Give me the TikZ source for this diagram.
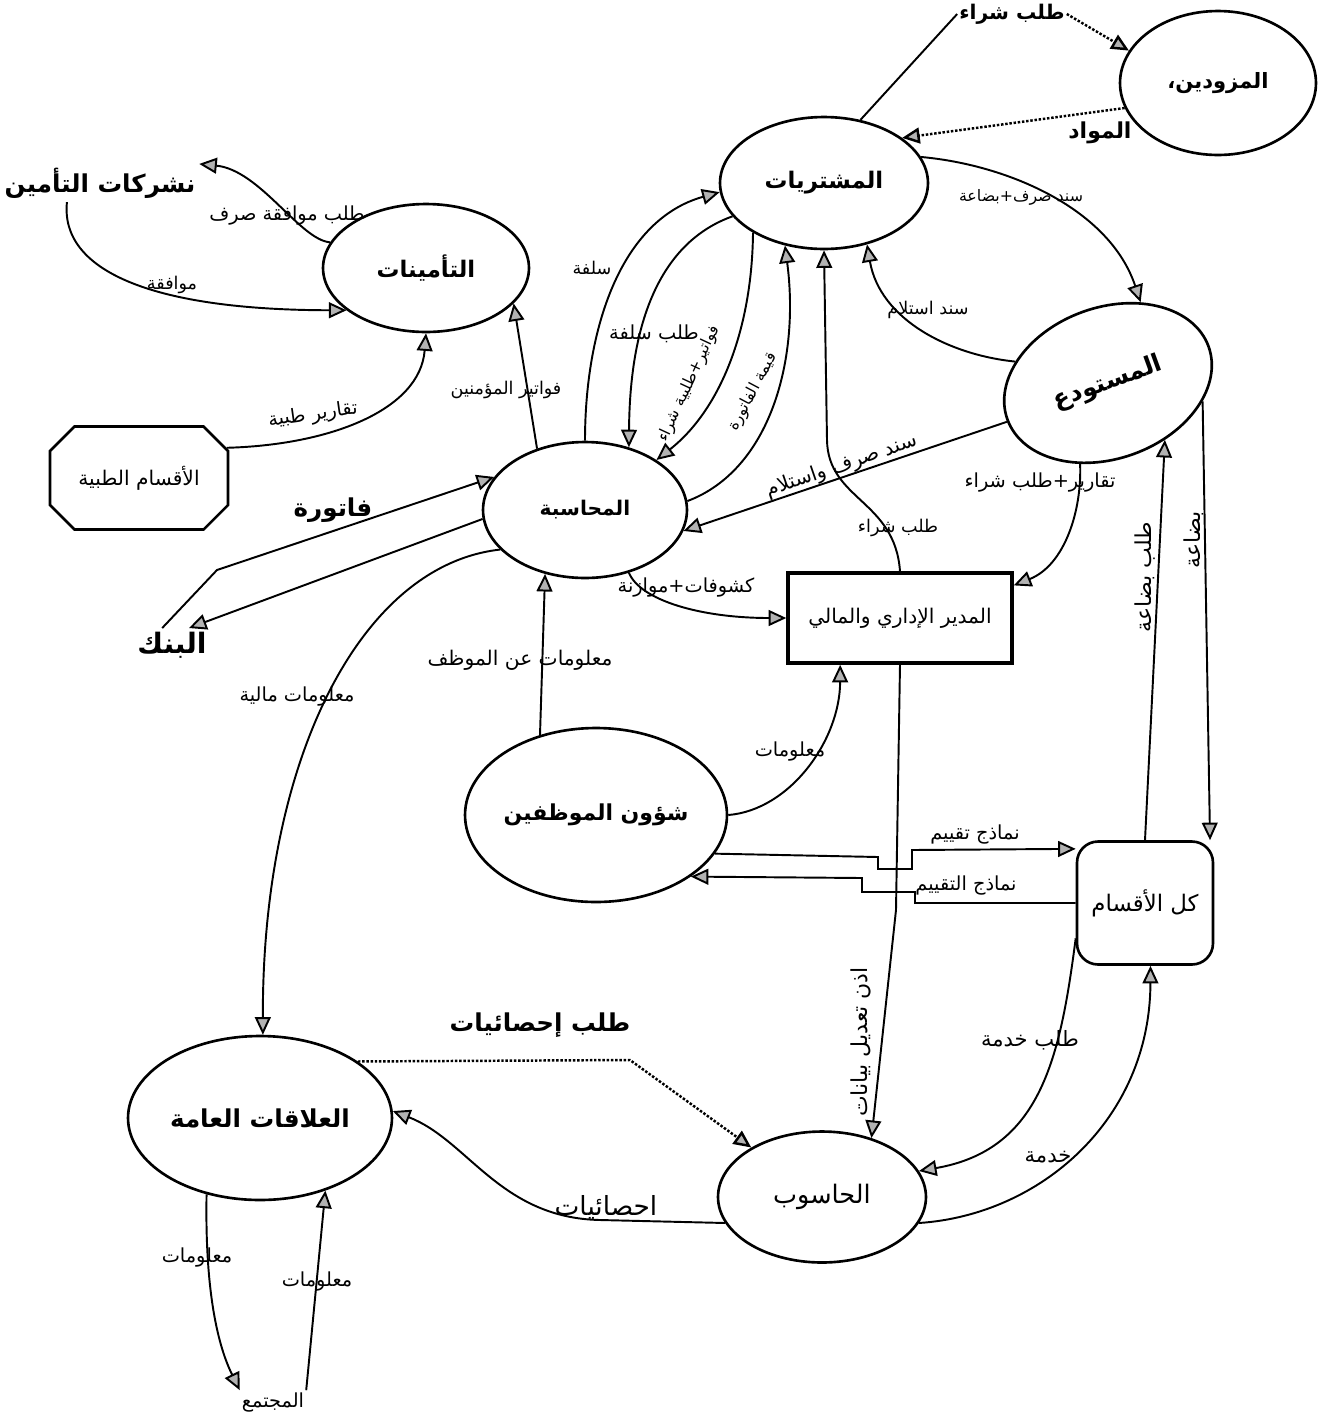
\documentclass[tikz,border=0pt]{standalone}
\usepackage{fontspec}
\usetikzlibrary{arrows.meta,shapes.geometric,shapes.misc}
\newfontfamily\arabicfont[Script=Arabic]{DejaVu Sans}
\TeXXeTstate=1
\newcommand{\ar}[1]{\beginR #1\endR}
\newcommand{\fs}[1]{\arabicfont\fontsize{#1}{#1}\selectfont}

\begin{document}
\begin{tikzpicture}[x=0.02cm,y=-0.02cm,
  ent/.style={draw,line width=1.5pt,ellipse,inner sep=0pt,font=\fs{13}\bfseries},
  boxent/.style={draw,line width=1.5pt,inner sep=0pt,font=\fs{13}},
  ext/.style={inner sep=2pt,font=\fs{14}\bfseries},
  lbl/.style={inner sep=1pt,font=\fs{11}},
  flow/.style={line width=1.1pt,-{Triangle[length=10pt,width=9pt,fill=gray!60]}},
  plain/.style={line width=1.1pt},
  dflow/.style={line width=1.4pt,densely dotted,-{Triangle[length=10pt,width=9pt,fill=gray!60]}},
]
\useasboundingbox (0,0) rectangle (1328,1421);
\fill[white] (0,0) rectangle (1328,1421);

% entities and processes
\node[ent,minimum width=3.92cm,minimum height=2.88cm,font=\fs{12}\bfseries] (sup) at (1218,83) {\ar{المزودين،}};
\node[ent,minimum width=4.16cm,minimum height=2.64cm] (pur) at (824,183) {\ar{المشتريات}};
\node[ent,minimum width=4.12cm,minimum height=2.56cm] (ins) at (426,268) {\ar{التأمينات}};
\node[ext] (inscos) at (100,183) {\ar{نشركات التأمين}};
\node[boxent,chamfered rectangle,chamfered rectangle sep=7pt,
      minimum width=3.56cm,minimum height=2.06cm,font=\fs{11.5}]
      (med) at (139,478) {\ar{الأقسام الطبية}};
\node[ext,font=\fs{16}\bfseries] (bank) at (172,645) {\ar{البنك}};
\node[ent,minimum width=4.08cm,minimum height=2.72cm,font=\fs{11.5}\bfseries] (acc) at (585,510) {\ar{المحاسبة}};
\node[ent,minimum width=4.28cm,minimum height=3.02cm,rotate=20,font=\fs{14}\bfseries] (wh) at (1108,383) {\ar{المستودع}};
\node[boxent,line width=2pt,minimum width=4.48cm,minimum height=1.8cm,font=\fs{11.5}]
      (mgr) at (900,618) {\ar{المدير الإداري والمالي}};
\node[ent,minimum width=5.24cm,minimum height=3.48cm,font=\fs{12.5}\bfseries] (emp) at (596,815) {\ar{شؤون الموظفين}};
\node[boxent,rounded corners=12pt,minimum width=2.72cm,minimum height=2.46cm] (all) at (1145,903) {\ar{كل الأقسام}};
\node[ent,minimum width=5.28cm,minimum height=3.28cm,font=\fs{14}\bfseries] (pr) at (260,1118) {\ar{العلاقات العامة}};
\node[ent,minimum width=4.16cm,minimum height=2.62cm,font=\fs{14.5}] (comp) at (822,1197) {\ar{الحاسوب}};
\node[lbl,font=\fs{11}] (soc) at (273,1402) {\ar{المجتمع}};

% suppliers
\node[lbl,font=\fs{11.5}\bfseries] (ltp) at (1012,14) {\ar{طلب شراء}};
\draw[plain] (pur.60) -- (ltp.west);
\draw[dflow] (ltp.east) -- (sup.160);
\node[lbl,font=\fs{12.5}\bfseries] (lmw) at (1100,133) {\ar{المواد}};
\draw[dflow] (sup.195) -- (pur.30);

% purchases and warehouse
\node[lbl,font=\fs{9}] (lssb) at (1021,197) {\ar{سند صرف+بضاعة}};
\draw[flow] (pur.15) .. controls (1010,165) and (1110,210) .. (wh.48);
\node[lbl,font=\fs{10}] (lsis) at (928,310) {\ar{سند استلام}};
\draw[flow] (wh.147) .. controls (950,355) and (880,320) .. (pur.-55);

% accounting and purchases
\node[lbl,font=\fs{10}] (lsl) at (592,268) {\ar{سلفة}};
\draw[flow] (acc.90) .. controls (585,330) and (620,220) .. (pur.185);
\node[lbl] (ltsl) at (654,334) {\ar{طلب سلفة}};
\draw[flow] (pur.200) .. controls (680,235) and (630,290) .. (acc.55);
\node[lbl,font=\fs{9}] (lfw) [rotate=65] at (689,384) {\ar{فواتير+طلبية شراء}};
\draw[flow] (pur.-145) .. controls (752,330) and (720,410) .. (acc.35);
\node[lbl,font=\fs{9}] (lqf) [rotate=62] at (753,392) {\ar{قيمة الفاتورة}};
\draw[flow] (acc.5) .. controls (770,470) and (800,360) .. (pur.-122);

% manager
\node[lbl,font=\fs{10}] (ltsh) at (898,528) {\ar{طلب شراء}};
\draw[flow] (mgr.north) .. controls (895,500) and (828,500) .. (827,440) -- (pur.-90);
\node[lbl,font=\fs{11.5}] (lssw) [rotate=19] at (842,466) {\ar{سند صرف واستلام}};
\draw[flow] (wh.181) -- (acc.-12);
\node[lbl] (ltrt) at (1040,483) {\ar{تقارير+طلب شراء}};
\draw[flow] (wh.-129) .. controls (1082,510) and (1065,565) .. (mgr.16);
\node[lbl] (lksh) at (686,588) {\ar{كشوفات+موازنة}};
\draw[flow] (acc.-55) .. controls (640,600) and (700,618) .. (mgr.west);

% employee affairs
\node[lbl,font=\fs{11.5}] (lmam) at (520,660) {\ar{معلومات عن الموظف}};
\draw[flow] (emp.125) -- (acc.-122);
\node[lbl] (lmal) at (790,752) {\ar{معلومات}};
\draw[flow] (emp.0) .. controls (790,810) and (840,740) .. (mgr.-142);
\node[lbl] (lnt) at (975,835) {\ar{نماذج تقييم}};
\draw[flow] (emp.-18) -- (878,857) -- (878,869) -- (912,869) -- (912,850) -- (all.142);
\node[lbl] (lntt) at (966,886) {\ar{نماذج التقييم}};
\draw[flow] (all.180) -- (915,903) -- (915,892) -- (862,892) -- (862,878) -- (emp.-33);

% computer
\node[lbl,font=\fs{12.5}] (lidn) [rotate=90] at (861,1042) {\ar{اذن تعديل بيانات}};
\draw[flow] (mgr.south) -- (896,910) -- (comp.50);

% all departments and warehouse
\node[lbl,font=\fs{12.5}] (ltb) [rotate=90] at (1145,577) {\ar{طلب بضاعة}};
\draw[flow] (all.north) -- (wh.-65);
\node[lbl,font=\fs{12.5}] (lbd) [rotate=90] at (1194,540) {\ar{بضاعة}};
\draw[flow] (wh.-31) -- (all.44);
\node[lbl,font=\fs{12}] (ltk) at (1030,1040) {\ar{طلب خدمة}};
\draw[flow] (all.207) .. controls (1060,1060) and (1040,1150) .. (comp.15);
\node[lbl,font=\fs{12}] (lkd) at (1048,1157) {\ar{خدمة}};
\draw[flow] (comp.-15) .. controls (1040,1215) and (1150,1120) .. (all.-85);

% public relations
\node[lbl,font=\fs{14}\bfseries] (ltih) at (540,1025) {\ar{طلب إحصائيات}};
\draw[dflow] (pr.30) -- (630,1060) -- (comp.145);
\node[lbl,font=\fs{15}] (lih) at (606,1207) {\ar{احصائيات}};
\draw[flow] (comp.195) -- (600,1220) .. controls (500,1218) and (468,1140) .. (pr.3);
\node[lbl] (lmm) at (297,697) {\ar{معلومات مالية}};
\draw[flow] (acc.-155) .. controls (360,565) and (262,760) .. (pr.88);
\node[lbl] (lm1) at (197,1257) {\ar{معلومات}};
\draw[flow] (pr.-125) .. controls (205,1280) and (215,1340) .. (soc.north west);
\node[lbl] (lm2) at (317,1282) {\ar{معلومات}};
\draw[flow] (soc.north east) -- (pr.-48);

% bank
\node[lbl,font=\fs{14}\bfseries] (lft) at (333,510) {\ar{فاتورة}};
\draw[flow] (bank.120) -- (217,570) -- (acc.160);
\draw[flow] (acc.185) -- (bank.45);

% insurance
\node[lbl] (ltt) [rotate=8] at (313,415) {\ar{تقارير طبية}};
\draw[flow] (med.19) .. controls (330,445) and (420,410) .. (ins.-90);
\node[lbl,font=\fs{10}] (lfm) at (506,390) {\ar{فواتير المؤمنين}};
\draw[flow] (acc.128) -- (ins.-22);
\node[lbl] (ltms) at (287,216) {\ar{طلب موافقة صرف}};
\draw[flow] (ins.165) .. controls (300,240) and (260,170) .. (inscos.north east);
\node[lbl,font=\fs{10}] (lmwf) at (172,285) {\ar{موافقة}};
\draw[flow] (inscos.-150) .. controls (60,270) and (150,310) .. (ins.-152);
\end{tikzpicture}
\end{document}
